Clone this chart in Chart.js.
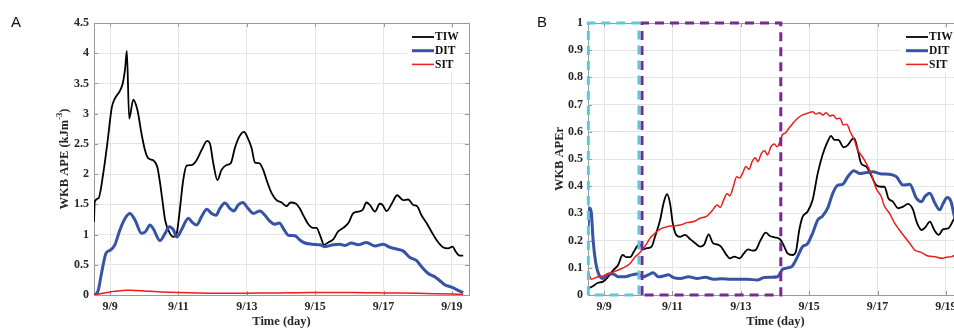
<!DOCTYPE html>
<html>
<head>
<meta charset="utf-8">
<script src="https://cdn.jsdelivr.net/npm/chart.js@4.4.1/dist/chart.umd.min.js"></script>
<style>
  html, body { margin: 0; padding: 0; background: #fff; }
  body { width: 954px; height: 329px; overflow: hidden; position: relative; }
  .box { position: absolute; top: 0; height: 329px; }
  #boxA { left: 0; width: 480px; }
  #boxB { left: 480px; width: 494px; }
  .tag { position: absolute; top: 14px; font: 15px/15px "Liberation Sans", Arial, sans-serif; color: #111; }
</style>
</head>
<body>
<div class="box" id="boxA"><canvas id="chartA"></canvas></div>
<div class="box" id="boxB"><canvas id="chartB"></canvas></div>
<div class="tag" style="left:11px">A</div>
<div class="tag" style="left:537px">B</div>
<script>
// ---- axis ticks (days of September) ----
const dayTicks = [9, 11, 13, 15, 17, 19];
const dayLabels = ['9/9', '9/11', '9/13', '9/15', '9/17', '9/19'];
const seriesNames = ['TIW', 'DIT', 'SIT'];

// ---- panel A : WKB APE (kJ m^-3) ----
const tTiwA = [8.53, 8.55, 8.66, 8.80, 8.92, 9.05, 9.14, 9.27, 9.37, 9.44, 9.49, 9.56, 9.68, 9.80, 9.92, 10.02, 10.12, 10.26, 10.38, 10.45, 10.53, 10.61, 10.75, 10.85, 10.95, 11.04, 11.14, 11.24, 11.39, 11.53, 11.68, 11.84, 11.92, 12.02, 12.14, 12.26, 12.41, 12.53, 12.65, 12.78, 12.92, 13.01, 13.14, 13.24, 13.36, 13.48, 13.58, 13.73, 13.87, 14.02, 14.16, 14.28, 14.44, 14.55, 14.67, 14.80, 14.94, 15.04, 15.16, 15.26, 15.38, 15.53, 15.67, 15.82, 15.97, 16.11, 16.26, 16.39, 16.50, 16.60, 16.75, 16.89, 16.97, 17.09, 17.24, 17.40, 17.57, 17.72, 17.87, 17.98, 18.11, 18.26, 18.40, 18.55, 18.74, 18.89, 19.02, 19.11, 19.23, 19.33];
const tiwA = [1.21, 1.54, 1.60, 2.01, 2.51, 3.10, 3.25, 3.36, 3.50, 3.74, 4.04, 2.92, 3.23, 3.06, 2.67, 2.40, 2.26, 2.23, 2.12, 1.90, 1.57, 1.24, 1.02, 0.96, 1.02, 1.41, 1.90, 2.14, 2.15, 2.23, 2.40, 2.55, 2.51, 2.18, 1.90, 2.07, 2.15, 2.18, 2.43, 2.62, 2.70, 2.62, 2.43, 2.19, 2.18, 2.07, 1.90, 1.68, 1.57, 1.53, 1.47, 1.53, 1.51, 1.43, 1.30, 1.17, 1.11, 1.11, 0.96, 0.83, 0.87, 0.92, 1.05, 1.11, 1.19, 1.35, 1.38, 1.41, 1.53, 1.49, 1.38, 1.51, 1.49, 1.39, 1.51, 1.65, 1.57, 1.58, 1.49, 1.47, 1.32, 1.19, 1.05, 0.91, 0.79, 0.77, 0.80, 0.72, 0.65, 0.65];

const tDitA = [8.53, 8.60, 8.66, 8.75, 8.88, 9.00, 9.14, 9.29, 9.44, 9.58, 9.73, 9.92, 10.04, 10.17, 10.26, 10.46, 10.61, 10.73, 10.85, 10.95, 11.09, 11.29, 11.39, 11.53, 11.68, 11.83, 11.97, 12.10, 12.21, 12.36, 12.51, 12.62, 12.75, 12.88, 13.04, 13.19, 13.38, 13.53, 13.66, 13.82, 13.95, 14.09, 14.21, 14.41, 14.55, 14.70, 14.90, 15.14, 15.28, 15.53, 15.72, 15.87, 16.06, 16.26, 16.50, 16.75, 16.99, 17.18, 17.38, 17.57, 17.77, 17.97, 18.11, 18.30, 18.50, 18.64, 18.79, 18.99, 19.14, 19.28, 19.33];
const ditA = [0, 0.02, 0.09, 0.36, 0.69, 0.74, 0.83, 1.08, 1.27, 1.35, 1.24, 1.02, 1.05, 1.16, 1.10, 0.90, 1.02, 1.13, 1.08, 0.96, 1.08, 1.27, 1.21, 1.16, 1.30, 1.42, 1.35, 1.32, 1.43, 1.52, 1.43, 1.39, 1.49, 1.53, 1.43, 1.35, 1.39, 1.32, 1.23, 1.17, 1.19, 1.08, 0.99, 0.98, 0.91, 0.86, 0.84, 0.83, 0.80, 0.83, 0.84, 0.82, 0.86, 0.83, 0.87, 0.81, 0.84, 0.79, 0.76, 0.73, 0.62, 0.57, 0.47, 0.36, 0.30, 0.24, 0.17, 0.13, 0.09, 0.05, 0.04];

const tSitA = [8.53, 8.70, 8.90, 9.10, 9.30, 9.50, 9.70, 9.90, 10.20, 10.50, 11.00, 11.50, 12.00, 12.50, 13.00, 13.50, 14.00, 14.50, 15.00, 15.50, 16.00, 16.50, 17.00, 17.50, 18.00, 18.50, 19.00, 19.33];
const sitA = [0, 0.02, 0.04, 0.06, 0.07, 0.08, 0.075, 0.07, 0.06, 0.05, 0.04, 0.035, 0.03, 0.03, 0.03, 0.032, 0.035, 0.038, 0.04, 0.042, 0.04, 0.038, 0.035, 0.032, 0.028, 0.022, 0.015, 0.01];

// ---- panel B : WKB APEr ----
const tTiwB = [8.55, 8.68, 8.82, 8.97, 9.12, 9.27, 9.41, 9.54, 9.66, 9.76, 9.87, 9.97, 10.05, 10.15, 10.25, 10.39, 10.49, 10.64, 10.74, 10.84, 10.93, 11.01, 11.11, 11.23, 11.37, 11.52, 11.67, 11.81, 11.93, 12.06, 12.18, 12.31, 12.42, 12.55, 12.68, 12.81, 12.97, 13.09, 13.21, 13.34, 13.43, 13.58, 13.73, 13.85, 13.99, 14.15, 14.27, 14.37, 14.51, 14.61, 14.71, 14.81, 14.95, 15.10, 15.25, 15.39, 15.54, 15.64, 15.74, 15.85, 16.01, 16.13, 16.25, 16.32, 16.42, 16.52, 16.67, 16.81, 16.96, 17.11, 17.20, 17.32, 17.45, 17.60, 17.75, 17.89, 18.04, 18.14, 18.29, 18.40, 18.53, 18.66, 18.79, 18.92, 19.07, 19.17, 19.27, 19.35];
const tiwB = [0.025, 0.033, 0.045, 0.049, 0.067, 0.092, 0.11, 0.147, 0.139, 0.139, 0.159, 0.18, 0.186, 0.168, 0.172, 0.178, 0.214, 0.276, 0.337, 0.371, 0.337, 0.264, 0.221, 0.214, 0.221, 0.205, 0.19, 0.178, 0.186, 0.223, 0.192, 0.186, 0.178, 0.153, 0.135, 0.141, 0.135, 0.153, 0.168, 0.163, 0.165, 0.202, 0.229, 0.217, 0.212, 0.205, 0.178, 0.153, 0.147, 0.159, 0.239, 0.288, 0.306, 0.349, 0.447, 0.515, 0.564, 0.585, 0.57, 0.57, 0.543, 0.551, 0.572, 0.576, 0.533, 0.484, 0.472, 0.441, 0.404, 0.398, 0.398, 0.355, 0.343, 0.319, 0.325, 0.335, 0.313, 0.27, 0.239, 0.249, 0.27, 0.239, 0.221, 0.242, 0.245, 0.264, 0.288, 0.30];

const tDitB = [8.53, 8.58, 8.63, 8.68, 8.76, 8.85, 8.97, 9.12, 9.27, 9.41, 9.61, 9.81, 9.95, 10.15, 10.29, 10.44, 10.59, 10.74, 10.88, 11.03, 11.23, 11.47, 11.72, 11.96, 12.21, 12.45, 12.70, 12.94, 13.19, 13.48, 13.68, 13.88, 14.07, 14.22, 14.37, 14.51, 14.66, 14.81, 14.95, 15.10, 15.25, 15.39, 15.54, 15.69, 15.84, 15.98, 16.13, 16.31, 16.47, 16.67, 16.86, 17.11, 17.35, 17.55, 17.75, 17.94, 18.14, 18.29, 18.38, 18.53, 18.68, 18.82, 18.92, 19.04, 19.15, 19.25, 19.35];
const ditB = [0.25, 0.32, 0.30, 0.20, 0.116, 0.074, 0.061, 0.077, 0.077, 0.067, 0.067, 0.074, 0.077, 0.067, 0.074, 0.082, 0.067, 0.07, 0.074, 0.064, 0.061, 0.067, 0.061, 0.065, 0.058, 0.06, 0.058, 0.058, 0.058, 0.055, 0.064, 0.065, 0.067, 0.094, 0.1, 0.107, 0.141, 0.178, 0.188, 0.227, 0.276, 0.29, 0.319, 0.374, 0.404, 0.407, 0.435, 0.457, 0.447, 0.45, 0.453, 0.445, 0.444, 0.435, 0.404, 0.407, 0.355, 0.343, 0.361, 0.374, 0.337, 0.313, 0.337, 0.358, 0.343, 0.288, 0.25];

const tSitB = [8.55, 8.63, 8.78, 8.97, 9.17, 9.36, 9.56, 9.76, 9.90, 10.05, 10.20, 10.34, 10.49, 10.64, 10.84, 11.03, 11.23, 11.42, 11.62, 11.81, 12.01, 12.16, 12.31, 12.40, 12.50, 12.60, 12.68, 12.78, 12.88, 12.97, 13.05, 13.15, 13.24, 13.33, 13.42, 13.50, 13.60, 13.70, 13.78, 13.88, 13.98, 14.06, 14.15, 14.22, 14.30, 14.40, 14.51, 14.66, 14.81, 14.95, 15.10, 15.20, 15.30, 15.40, 15.50, 15.60, 15.70, 15.80, 15.90, 16.00, 16.10, 16.20, 16.32, 16.42, 16.52, 16.67, 16.81, 16.96, 17.11, 17.20, 17.35, 17.50, 17.64, 17.79, 17.94, 18.09, 18.29, 18.48, 18.68, 18.88, 19.02, 19.17, 19.27, 19.35];
const sitB = [0.08, 0.058, 0.065, 0.07, 0.08, 0.089, 0.1, 0.116, 0.139, 0.156, 0.18, 0.208, 0.227, 0.242, 0.251, 0.254, 0.257, 0.266, 0.27, 0.282, 0.29, 0.31, 0.331, 0.322, 0.35, 0.372, 0.365, 0.398, 0.435, 0.43, 0.447, 0.472, 0.462, 0.49, 0.505, 0.49, 0.52, 0.53, 0.515, 0.545, 0.555, 0.545, 0.565, 0.59, 0.595, 0.612, 0.629, 0.65, 0.662, 0.668, 0.674, 0.665, 0.67, 0.662, 0.67, 0.658, 0.662, 0.648, 0.65, 0.625, 0.628, 0.60, 0.57, 0.533, 0.515, 0.484, 0.447, 0.392, 0.361, 0.327, 0.30, 0.264, 0.239, 0.214, 0.19, 0.165, 0.156, 0.143, 0.141, 0.135, 0.139, 0.141, 0.147, 0.15];

// dashed boxes in panel B (time window corners, value 0..1)
const cyanBoxT = [8.54, 8.54, 10.02, 10.02, 8.54];
const cyanBoxV = [0, 1, 1, 0, 0];
const purpleBoxT = [10.11, 10.11, 14.17, 14.17, 10.11];
const purpleBoxV = [0, 1, 1, 0, 0];

const zip = (ts, vs) => ts.map((t, i) => ({ x: t, y: vs[i] }));

const SERIF = '"Liberation Serif", "Times New Roman", serif';
const INK = '#262626';
Chart.defaults.font.family = SERIF;
Chart.defaults.font.weight = 'bold';
Chart.defaults.color = INK;

// axes box with inward ticks, drawn under the data
const framePlugin = {
  id: 'frame',
  beforeDatasetsDraw(chart) {
    const ctx = chart.ctx, a = chart.chartArea;
    const xs = chart.scales.x, ys = chart.scales.y;
    ctx.save();
    ctx.strokeStyle = '#9a9a9a';
    ctx.lineWidth = 1;
    ctx.strokeRect(Math.round(a.left) + 0.5, Math.round(a.top) + 0.5, Math.round(a.right - a.left), Math.round(a.bottom - a.top));
    ctx.beginPath();
    xs.ticks.forEach(t => {
      const px = Math.round(xs.getPixelForValue(t.value)) + 0.5;
      ctx.moveTo(px, a.bottom); ctx.lineTo(px, a.bottom - 4);
      ctx.moveTo(px, a.top); ctx.lineTo(px, a.top + 4);
    });
    ys.ticks.forEach(t => {
      const py = Math.round(ys.getPixelForValue(t.value)) + 0.5;
      ctx.moveTo(a.left, py); ctx.lineTo(a.left + 4, py);
      ctx.moveTo(a.right, py); ctx.lineTo(a.right - 4, py);
    });
    ctx.stroke();
    ctx.restore();
  }
};

// rotated y title, with optional superscript part
const yTitlePlugin = {
  id: 'yTitle',
  afterDraw(chart, args, opts) {
    const ctx = chart.ctx, a = chart.chartArea;
    const big = 'bold 12.5px ' + SERIF, small = 'bold 8.5px ' + SERIF;
    ctx.save();
    ctx.translate(opts.x, (a.top + a.bottom) / 2);
    ctx.rotate(-Math.PI / 2);
    ctx.fillStyle = INK;
    ctx.textBaseline = 'middle';
    let total = 0;
    opts.parts.forEach(p => { ctx.font = p.sup ? small : big; total += ctx.measureText(p.text).width; });
    let x = -total / 2;
    opts.parts.forEach(p => {
      ctx.font = p.sup ? small : big;
      ctx.fillText(p.text, x, p.sup ? -5 : 0);
      x += ctx.measureText(p.text).width;
    });
    ctx.restore();
  }
};

// legend box in the top right corner of the plot
const boxLegendPlugin = {
  id: 'boxLegend',
  afterDraw(chart) {
    const ctx = chart.ctx, a = chart.chartArea;
    ctx.save();
    ctx.fillStyle = '#fff';
    ctx.fillRect(a.right - 62, a.top + 5, 58, 44);
    ctx.font = 'bold 11.5px ' + SERIF;
    ctx.textBaseline = 'middle';
    seriesNames.forEach((name, i) => {
      const ds = chart.data.datasets.find(d => d.label === name);
      const y = a.top + 14 + i * 13.7;
      ctx.strokeStyle = ds.borderColor;
      ctx.lineWidth = ds.borderWidth;
      ctx.beginPath(); ctx.moveTo(a.right - 57, y); ctx.lineTo(a.right - 35, y); ctx.stroke();
      ctx.fillStyle = '#111';
      ctx.fillText(name, a.right - 34, y + 0.5);
    });
    ctx.restore();
  }
};

let series = (label, pts, color, width) => ({
  label: label, data: pts, borderColor: color, borderWidth: width,
  pointRadius: 0, fill: false, cubicInterpolationMode: 'monotone'
});

let dashedBox = (pts, color) => ({
  label: 'box', data: pts, borderColor: color, borderWidth: 3, borderDash: [9, 6],
  pointRadius: 0, fill: false, tension: 0, clip: false
});

let makeChart = (id, datasets, yMax, yStep, yWidth, yTitleX, titleParts) => {
  return new Chart(document.getElementById(id), {
    type: 'line',
    data: { datasets: datasets },
    plugins: [framePlugin, yTitlePlugin, boxLegendPlugin],
    options: {
      responsive: true,
      maintainAspectRatio: false,
      animation: false,
      events: [],
      layout: { padding: { top: 23, right: 11, left: 0, bottom: 0 } },
      plugins: {
        legend: { display: false },
        tooltip: { enabled: false },
        yTitle: { x: yTitleX, parts: titleParts }
      },
      scales: {
        x: {
          type: 'linear', min: 8.53, max: 19.5,
          afterBuildTicks: s => { s.ticks = dayTicks.map(v => ({ value: v })); },
          afterFit: s => { s.height = 34; },
          ticks: { font: { size: 12, weight: 'bold' }, color: INK, padding: 5, maxRotation: 0,
            callback: v => dayLabels[dayTicks.indexOf(v)] },
          grid: { color: '#e4e4e4', drawTicks: false },
          border: { display: false },
          title: { display: true, text: 'Time (day)', font: { size: 12.5, weight: 'bold' }, color: INK, padding: 0 }
        },
        y: {
          min: 0, max: yMax,
          afterFit: s => { s.width = yWidth; },
          ticks: { stepSize: yStep, font: { size: 12, weight: 'bold' }, color: INK, padding: 5,
            callback: v => String(Math.round(v * 10) / 10) },
          grid: { color: '#e4e4e4', drawTicks: false },
          border: { display: false }
        }
      }
    }
  });
};

makeChart('chartA', [
  series('SIT', zip(tSitA, sitA), '#ee1c1c', 1.5),
  series('DIT', zip(tDitA, ditA), '#3653a5', 3),
  series('TIW', zip(tTiwA, tiwA), '#000000', 1.8)
], 4.5, 0.5, 94, 65, [{ text: 'WKB APE (kJm' }, { text: '-3', sup: true }, { text: ')' }]);

makeChart('chartB', [
  dashedBox(zip(cyanBoxT, cyanBoxV), '#5cc8de'),
  dashedBox(zip(purpleBoxT, purpleBoxV), '#7a2896'),
  series('SIT', zip(tSitB, sitB), '#ee1c1c', 1.5),
  series('DIT', zip(tDitB, ditB), '#3653a5', 3),
  series('TIW', zip(tTiwB, tiwB), '#000000', 1.8)
], 1, 0.1, 108, 79.5, [{ text: 'WKB APEr' }]);
</script>
</body>
</html>
